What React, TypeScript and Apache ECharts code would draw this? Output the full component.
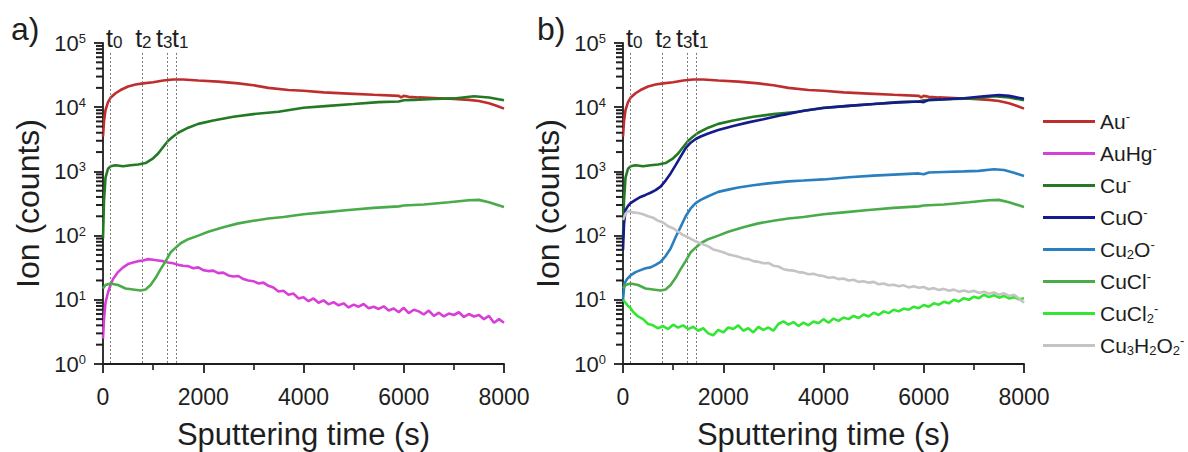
import React, { useEffect, useRef } from "react";
import * as echarts from "echarts";

// ---------- data ----------
const xTicks = [0, 2000, 4000, 6000, 8000];
const tMarks = [154, 785, 1290, 1470];
const tMarkNames = ["0", "2", "3", "1"];
const minorLogTicks = [
  2, 3, 4, 5, 6, 7, 8, 9,
  20, 30, 40, 50, 60, 70, 80, 90,
  200, 300, 400, 500, 600, 700, 800, 900,
  2000, 3000, 4000, 5000, 6000, 7000, 8000, 9000,
  20000, 30000, 40000, 50000, 60000, 70000, 80000, 90000,
];

const seriesNames = ["Au-", "AuHg-", "Cu-", "CuO-", "Cu2O-", "CuCl-", "CuCl2-", "Cu3H2O2-"];
const seriesColors = ["#bf2e2e", "#d83ed8", "#237a23", "#151a8c", "#2a7fc0", "#4aab4a", "#33e633", "#c4c4c4"];

const au = [
  [0, 3500], [20, 6000], [50, 9000], [100, 12000], [150, 14000], [250, 16500], [350, 18500],
  [500, 21000], [650, 22500], [800, 23500], [1000, 24500], [1200, 26000], [1400, 27000],
  [1600, 27000], [1900, 26000], [2300, 25000], [2700, 23500], [3000, 22000], [3300, 20000],
  [3700, 18500], [4000, 18000], [4400, 17000], [4900, 16300], [5400, 15600], [5900, 15000],
  [5950, 14200], [6000, 15000], [6100, 14500], [6300, 14200], [6700, 13800], [7000, 13500],
  [7300, 13000], [7500, 12500], [7700, 11500], [7850, 10500], [8000, 9500],
];

const cu = [
  [0, 90], [20, 350], [50, 800], [100, 1100], [150, 1200], [250, 1250], [400, 1200], [550, 1250],
  [700, 1280], [850, 1350], [1000, 1600], [1100, 1900], [1200, 2400], [1300, 3000], [1400, 3500],
  [1500, 4000], [1700, 4800], [1900, 5500], [2200, 6200], [2600, 7100], [3000, 7800], [3500, 8500],
  [4000, 9800], [4500, 10500], [5000, 11200], [5500, 12000], [5900, 12300], [6000, 12800],
  [6200, 13000], [6600, 13400], [7000, 13700], [7400, 14800], [7700, 14200], [8000, 12800],
];

const cucl = [
  [0, 15], [50, 17], [150, 18], [300, 17], [450, 15], [600, 14.5], [750, 14], [850, 14.5],
  [950, 17], [1050, 22], [1150, 30], [1250, 40], [1350, 55], [1450, 65], [1550, 76], [1700, 88],
  [1900, 100], [2100, 115], [2400, 135], [2700, 155], [3000, 170], [3300, 185], [3600, 195],
  [4000, 215], [4400, 230], [4900, 250], [5400, 270], [5900, 285], [6000, 295], [6400, 305],
  [6900, 330], [7300, 355], [7500, 360], [7700, 330], [8000, 280],
];

const auHg = [
  [0, 2.5], [20, 5], [50, 9], [100, 13], [150, 17], [200, 21], [300, 27], [400, 32], [500, 36],
  [600, 38], [700, 40], [800, 41], [900, 43], [1000, 42], [1100, 41], [1200, 40], [1300, 38],
  [1400, 37], [1500, 35], [1600, 34], [1700, 33.5], [1800, 31], [1900, 32], [2000, 29],
  [2100, 28], [2200, 28.5], [2300, 26], [2400, 26.5], [2500, 24], [2600, 23], [2700, 23.5],
  [2800, 21], [2900, 20], [3000, 19.5], [3100, 18], [3200, 18.5], [3300, 16.5], [3400, 15.5],
  [3500, 13.5], [3600, 13.8], [3700, 12], [3800, 12.5], [3900, 10.5], [4000, 11], [4100, 9.5],
  [4200, 10.5], [4300, 9], [4400, 9.8], [4500, 8.5], [4600, 9.2], [4700, 8.2], [4800, 8.8],
  [4900, 7.6], [5000, 8.4], [5100, 7.8], [5200, 8.6], [5300, 7.4], [5400, 7.8], [5500, 7.2],
  [5600, 7.9], [5700, 6.8], [5800, 7.3], [5900, 6.4], [6000, 7.5], [6100, 6.2], [6200, 7.0],
  [6300, 6.6], [6400, 5.9], [6500, 6.8], [6600, 5.6], [6700, 6.3], [6800, 5.5], [6900, 6.1],
  [7000, 5.8], [7100, 6.4], [7200, 5.4], [7300, 6.0], [7400, 5.5], [7500, 5.8], [7600, 5.0],
  [7700, 5.6], [7800, 4.4], [7900, 5.0], [8000, 4.4],
];

const cuO = [
  [0, 60], [20, 150], [50, 250], [100, 290], [150, 320], [250, 360], [350, 400], [450, 430],
  [550, 465], [650, 510], [750, 580], [850, 720], [950, 930], [1050, 1250], [1150, 1700],
  [1250, 2300], [1350, 2800], [1450, 3200], [1550, 3500], [1700, 3900], [1900, 4400],
  [2200, 5100], [2500, 5800], [2800, 6500], [3200, 7600], [3600, 8800], [4000, 9700],
  [4500, 10500], [5000, 11200], [5500, 11900], [5900, 12300], [6000, 12000], [6100, 13000],
  [6400, 13300], [6800, 13800], [7200, 14800], [7500, 15500], [7700, 15000], [8000, 13500],
];

const cu2O = [
  [0, 10], [30, 18], [80, 21], [150, 24], [250, 27], [350, 29], [450, 31], [550, 32], [650, 35],
  [750, 39], [850, 48], [950, 63], [1050, 95], [1150, 137], [1250, 200], [1350, 265], [1450, 320],
  [1550, 360], [1700, 410], [1900, 480], [2100, 520], [2300, 560], [2600, 610], [2900, 650],
  [3300, 700], [3600, 720], [4000, 750], [4500, 810], [5000, 860], [5500, 900], [5900, 930],
  [6000, 900], [6100, 960], [6400, 980], [6800, 1000], [7100, 1020], [7400, 1080], [7600, 1050],
  [7800, 950], [8000, 850],
];

const cucl2 = [
  [0, 10], [50, 9], [100, 8], [150, 7.5], [200, 6.5], [300, 5.5], [400, 5], [500, 4.2], [600, 4.0],
  [700, 3.6], [800, 3.9], [900, 3.5], [1000, 4.1], [1100, 3.7], [1200, 4.0], [1300, 3.5],
  [1400, 3.8], [1500, 3.3], [1600, 3.6], [1700, 3.0], [1800, 2.8], [1900, 3.4], [2000, 3.1],
  [2100, 3.7], [2200, 3.5], [2300, 4.0], [2400, 3.3], [2500, 3.6], [2600, 3.1], [2700, 3.8],
  [2800, 3.4], [2900, 3.7], [3000, 3.3], [3100, 4.2], [3200, 4.6], [3300, 4.1], [3400, 4.5],
  [3500, 3.9], [3600, 4.4], [3700, 4.0], [3800, 4.6], [3900, 4.3], [4000, 5.0], [4100, 4.4],
  [4200, 5.1], [4300, 4.7], [4400, 5.3], [4500, 5.0], [4600, 5.6], [4700, 5.2], [4800, 5.9],
  [4900, 5.5], [5000, 6.3], [5100, 5.8], [5200, 6.6], [5300, 6.2], [5400, 7.0], [5500, 6.6],
  [5600, 7.3], [5700, 7.0], [5800, 7.8], [5900, 7.4], [6000, 8.3], [6100, 7.8], [6200, 8.8],
  [6300, 8.4], [6400, 9.3], [6500, 8.8], [6600, 10.0], [6700, 9.4], [6800, 10.6], [6900, 10.0],
  [7000, 11.2], [7100, 10.6], [7200, 12.0], [7300, 11.0], [7400, 11.8], [7500, 10.8], [7600, 11.5],
  [7700, 10.5], [7800, 11.0], [7900, 10.2], [8000, 10.6],
];

const cu3h2o2 = [
  [0, 175], [50, 220], [100, 240], [150, 235], [200, 230], [300, 225], [400, 215], [500, 200],
  [600, 190], [700, 170], [800, 160], [900, 140], [1000, 130], [1100, 115], [1200, 102],
  [1300, 94], [1400, 85], [1500, 78], [1600, 73], [1700, 68], [1800, 61], [1900, 58], [2000, 55],
  [2100, 51], [2200, 49], [2300, 47], [2400, 44], [2500, 43], [2600, 40], [2700, 39], [2800, 37],
  [2900, 37.5], [3000, 34], [3100, 33], [3200, 30], [3300, 29], [3400, 28.5], [3500, 27],
  [3600, 26.5], [3700, 25], [3800, 25.5], [3900, 24], [4000, 23.5], [4100, 22], [4200, 22.5],
  [4300, 21], [4400, 21.5], [4500, 20], [4600, 20.5], [4700, 19], [4800, 19.5], [4900, 18.5],
  [5000, 19], [5100, 17.5], [5200, 18], [5300, 16.8], [5400, 17.2], [5500, 16.2], [5600, 16.8],
  [5700, 15.6], [5800, 16.2], [5900, 15.4], [6000, 15.8], [6100, 14.6], [6200, 15.2], [6300, 14.2],
  [6400, 14.8], [6500, 13.8], [6600, 14.4], [6700, 13.4], [6800, 14.0], [6900, 13.2], [7000, 13.8],
  [7100, 12.8], [7200, 13.4], [7300, 12.4], [7400, 13.0], [7500, 12.0], [7600, 12.6], [7700, 11.5],
  [7800, 12.0], [7900, 10.5], [8000, 9.0],
];

const panelAData: Record<string, number[][]> = { "Au-": au, "AuHg-": auHg, "Cu-": cu, "CuCl-": cucl };
const panelBData: Record<string, number[][]> = {
  "Au-": au, "Cu-": cu, "CuO-": cuO, "Cu2O-": cu2O, "CuCl-": cucl, "CuCl2-": cucl2, "Cu3H2O2-": cu3h2o2,
};

const legendLabels: Record<string, string> = {
  "Au-": "Au{sup|-}",
  "AuHg-": "AuHg{sup|-}",
  "Cu-": "Cu{sup|-}",
  "CuO-": "CuO{sup|-}",
  "Cu2O-": "Cu{sub|2}O{sup|-}",
  "CuCl-": "CuCl{sup|-}",
  "CuCl2-": "CuCl{sub|2}{sup|-}",
  "Cu3H2O2-": "Cu{sub|3}H{sub|2}O{sub|2}{sup|-}",
};

const FONT = "'Liberation Sans', Arial, Helvetica, sans-serif";
const INK = "#1e1e1e";

export default function App() {
  const ref = useRef<HTMLDivElement>(null);

  useEffect(() => {
    if (!ref.current) return;
    const chart = echarts.init(ref.current, undefined, { renderer: "svg" });

    const gridTop = 43;
    const gridH = 321;
    const gridW = 401;
    const lefts = [103, 623];

    const xAxisBase = (gi: number) => ({
      type: "value",
      gridIndex: gi,
      min: 0,
      max: 8000,
      interval: 2000,
      name: "Sputtering time (s)",
      nameLocation: "middle",
      nameGap: 55,
      nameTextStyle: { fontSize: 31, color: INK, fontFamily: FONT },
      axisLine: { show: true, lineStyle: { color: INK, width: 1.8 } },
      axisTick: { show: true, length: 9, lineStyle: { color: INK, width: 1.8 } },
      minorTick: { show: true, splitNumber: 2, length: 6, lineStyle: { color: INK, width: 1.6 } },
      splitLine: { show: false },
      minorSplitLine: { show: false },
      axisLabel: {
        fontSize: 23, color: INK, fontFamily: FONT, margin: 21,
        formatter: (v: number) => (xTicks.includes(v) ? String(v) : ""),
      },
    });

    const yAxisBase = (gi: number) => ({
      type: "log",
      logBase: 10,
      gridIndex: gi,
      min: 1,
      max: 100000,
      name: "Ion (counts)",
      nameLocation: "middle",
      nameGap: 59,
      nameTextStyle: { fontSize: 32, color: INK, fontFamily: FONT },
      axisLine: { show: true, lineStyle: { color: INK, width: 1.8 } },
      axisTick: { show: true, length: 9, lineStyle: { color: INK, width: 1.8 } },
      splitLine: { show: false },
      axisLabel: {
        color: INK,
        fontFamily: FONT,
        margin: 17,
        formatter: (v: number) => `{b|10}{s|${Math.round(Math.log10(v))}}`,
        rich: {
          b: { fontSize: 22, color: INK, fontFamily: FONT },
          s: { fontSize: 13, color: INK, fontFamily: FONT, verticalAlign: "top" },
        },
      },
    });

    const pads = [[0, 0, 0, 7], [0, 0, 0, 2], [0, 7, 0, 0], [0, 0, 0, 7]];
    const markLine = {
      symbol: "none",
      silent: true,
      animation: false,
      lineStyle: { color: "#7a7a7a", type: [2, 2], width: 1 },
      label: {
        show: true,
        position: "start",
        distance: 2,
        color: INK,
        fontFamily: FONT,
        fontSize: 25,
        formatter: (p: any) => `t{sub|${p.name}}`,
        rich: { sub: { fontSize: 17, color: INK, fontFamily: FONT, verticalAlign: "bottom" } },
      },
      data: tMarks.map((t, i) => [
        { coord: [t, 70000], name: tMarkNames[i], label: { padding: pads[i] } },
        { coord: [t, 1] },
      ]),
    };

    const series: any[] = [];
    [panelAData, panelBData].forEach((pd, gi) => {
      let first = true;
      seriesNames.forEach((name, si) => {
        const d = pd[name];
        if (!d) return;
        series.push({
          type: "line",
          name,
          xAxisIndex: gi,
          yAxisIndex: gi,
          data: d,
          showSymbol: false,
          symbol: "none",
          lineStyle: { color: seriesColors[si], width: 2.6 },
          itemStyle: { color: seriesColors[si] },
          z: 2 + si,
          markLine: first ? markLine : undefined,
        });
        first = false;
      });
    });

    chart.setOption({
      animation: false,
      backgroundColor: "#ffffff",
      textStyle: { fontFamily: FONT },
      title: [
        { text: "a)", left: 6, top: 8, textStyle: { fontSize: 32, fontWeight: "normal", color: INK, fontFamily: FONT } },
        { text: "b)", left: 532, top: 8, textStyle: { fontSize: 32, fontWeight: "normal", color: INK, fontFamily: FONT } },
      ],
      grid: lefts.map((l) => ({ left: l, top: gridTop, width: gridW, height: gridH, outerBoundsMode: "none" })),
      xAxis: [xAxisBase(0), xAxisBase(1)],
      yAxis: [yAxisBase(0), yAxisBase(1)],
      legend: {
        orient: "vertical",
        left: 1043,
        top: 110,
        padding: 0,
        data: seriesNames,
        itemWidth: 52,
        itemHeight: 14,
        itemGap: 9,
        icon: "path://M0,0 L52,0 L52,3 L0,3 Z",
        selectedMode: false,
        textStyle: {
          fontSize: 21,
          color: INK,
          fontFamily: FONT,
          lineHeight: 23,
          rich: {
            sup: { fontSize: 13, color: INK, fontFamily: FONT, verticalAlign: "top", lineHeight: 23 },
            sub: { fontSize: 13, color: INK, fontFamily: FONT, verticalAlign: "bottom", lineHeight: 23 },
          },
        },
        formatter: (n: string) => legendLabels[n] || n,
      },
      series,
    });

    // log-axis minor ticks: positions come from the axes' own scales
    const tickEls: any[] = [];
    [0, 1].forEach((gi) => {
      minorLogTicks.forEach((v) => {
        const p = chart.convertToPixel({ xAxisIndex: gi, yAxisIndex: gi } as any, [0, v]) as number[];
        if (!p || !isFinite(p[0]) || !isFinite(p[1])) return;
        tickEls.push({
          type: "line",
          silent: true,
          z: 50,
          shape: { x1: p[0] - 7, y1: p[1], x2: p[0], y2: p[1] },
          style: { stroke: INK, lineWidth: 2 },
        });
      });
    });
    chart.setOption({ graphic: { elements: tickEls } });

    return () => chart.dispose();
  }, []);

  return (
    <div
      ref={ref}
      style={{ position: "fixed", left: 0, top: 0, width: 1188, height: 452, background: "#fff" }}
    />
  );
}
